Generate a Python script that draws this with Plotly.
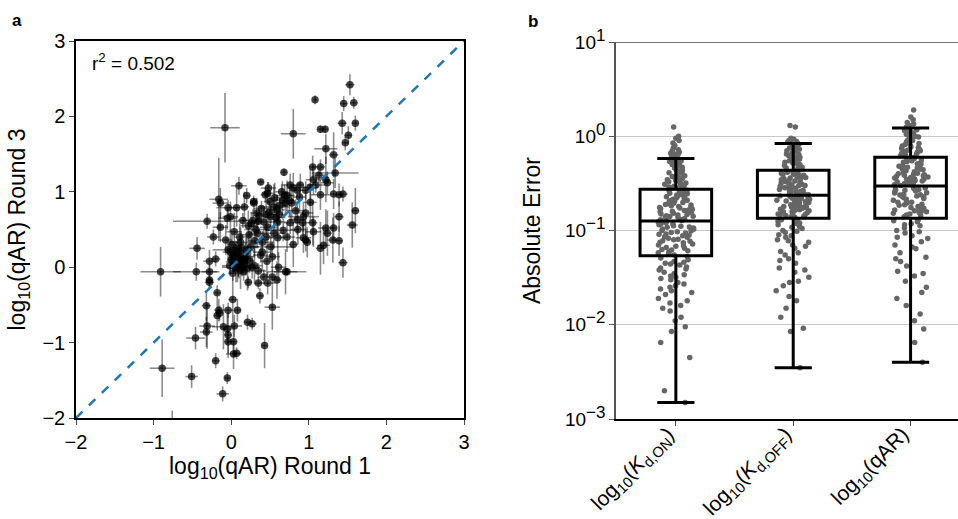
import plotly.graph_objects as go

# ---------------- Panel a data: log10(qAR) Round 1 vs Round 3 ----------------
round1 = [-0.08, 0.80, 1.08, 1.53, 1.45, 1.58, 1.43, 1.60, 1.51, 1.47, 1.15, 1.21, 1.22, 1.32, 1.05, 1.15,
          1.34, 1.13, 1.22, 1.06, 0.68, 0.38, 0.10, 0.76, 0.80, 0.85, 0.89, 0.96, 1.02, 1.09, 1.24, 1.15,
          1.32, 1.39, 1.44, 1.02, 0.96, 0.93, 0.92, 1.05, 1.06, 1.22, 1.24, 1.32, 1.39, 0.93, 0.98, 1.15,
          1.19, 1.31, 1.39, 1.60, 1.56, 1.44, -0.16, -0.14, 0.29, 0.47, -0.31, -0.14, -0.44, -0.23, -0.04,
          -0.01, -0.05, 0.07, 0.17, 0.29, 0.35, -0.04, -0.01, -0.07, 0.04, 0.12, 0.03, 0.08, 0.12, 0.02,
          0.21, 0.27, 0.18, 0.30, 0.38, 0.40, 0.25, 0.34, 0.40, 0.47, 0.51, 0.44, 0.48, 0.55, 0.59, 0.66,
          0.70, 0.55, 0.60, 0.67, 0.72, 0.51, 0.53, 0.42, 0.47, 0.53, 0.70, 0.61, 0.96, 0.85, 0.76, 0.72,
          -0.91, -0.45, -0.28, -0.28, -0.28, -0.20, -0.28, -0.18, -0.32, -0.16, -0.15, -0.18, 0.02, 0.08,
          -0.04, 0.37, 0.53, 0.35, 0.59, 0.22, -0.31, -0.32, -0.46, -0.10, -0.05, 0.04, 0.21, 0.27, -0.04,
          -0.04, 0.03, 0.03, 0.07, 0.43, -0.20, -0.89, -0.51, -0.05, -0.11, -0.76,
          0.00, 0.05, 0.10, 0.13, 0.15, 0.06, 0.09, -0.02, 0.16, 0.20, 0.01, 0.11, 0.22, 0.28, 0.33, 0.39,
          0.45, 0.50, 0.56, 0.62, 0.65, 0.72, 0.78, 0.83, 0.88, 0.60, 0.45, 0.30, 0.24, 0.35, 0.46, 0.80,
          0.86, 0.15, 0.20,
          0.04, 0.07, 0.11, 0.14, 0.19, 0.02, 0.09, 0.13, 0.17, 0.06, 0.23, 0.26, 0.32, 0.36, 0.42, 0.49,
          0.58, 0.63, 0.69, 0.75]
round3 = [1.85, 1.77, 2.22, 2.42, 2.17, 2.18, 1.91, 1.91, 1.75, 1.65, 1.83, 1.83, 1.57, 1.49, 1.33, 1.33,
          1.25, 1.22, 1.16, 1.16, 1.26, 1.13, 1.08, 1.09, 1.05, 1.02, 1.09, 1.02, 1.06, 1.09, 1.12, 0.96,
          0.97, 0.96, 0.97, 0.86, 0.72, 0.67, 0.59, 0.59, 0.47, 0.52, 0.45, 0.52, 0.67, 0.39, 0.33, 0.25,
          0.29, 0.36, 0.35, 0.75, 0.56, 0.06, 0.90, 0.85, 0.87, 0.98, 0.61, 0.53, 0.25, 0.40, 0.79,
          0.67, 0.65, 0.79, 0.80, 0.85, 0.61, 0.23, 0.20, 0.36, 0.47, 0.33, 0.07, 0.00, -0.04, -0.08,
          -0.01, 0.00, 0.12, 0.02, 0.16, 0.20, 0.27, 0.45, 0.33, 0.53, 0.67, 0.96, 1.05, 0.80, 0.76, 0.89,
          0.85, 0.45, 0.39, 0.49, 0.40, 0.27, 0.14, -0.13, -0.21, -0.13, -0.06, 0.00, 0.36, 0.63, 0.59, -0.06,
          -0.06, -0.06, -0.06, -0.20, 0.08, 0.11, -0.17, -0.34, -0.51, -0.57, -0.61, -0.64, -0.43, -0.57,
          -0.57, -0.38, -0.53, -0.21, -0.17, -0.20, -0.78, -0.86, -0.94, -0.79, -0.82, -0.78, -0.73, -0.75, -0.90,
          -0.99, -0.99, -1.15, -1.14, -1.04, -1.24, -1.34, -1.45, -1.47, -1.68, -2.30,
          0.10, 0.15, 0.05, 0.18, 0.08, 0.25, 0.12, 0.02, -0.06, 0.22, 0.30, 0.40, 0.55, 0.62, 0.72, 0.78,
          0.70, 0.87, 0.92, 0.70, 1.00, 0.95, 0.85, 0.75, 0.93, 0.60, 0.40, 0.35, 0.08, -0.05, 0.08, 0.30,
          0.50, 0.62, 0.95,
          0.04, 0.20, 0.10, 0.00, 0.14, 0.16, 0.03, 0.26, 0.06, -0.02, 0.43, 0.58, 0.50, 0.68, 0.60, 0.73,
          0.66, 0.82, 0.95, 0.88]
round1_err = [0.19, 0.16, 0.03, 0.06, 0.05, 0.05, 0.06, 0.04, 0.05, 0.04, 0.04, 0.04, 0.15, 0.06, 0.05, 0.06,
              0.30, 0.08, 0.05, 0.10, 0.04, 0.04, 0.10, 0.10, 0.08, 0.06, 0.05, 0.07, 0.10, 0.12, 0.08, 0.12,
              0.05, 0.05, 0.06, 0.08, 0.10, 0.20, 0.08, 0.06, 0.10, 0.10, 0.06, 0.05, 0.06, 0.10, 0.05, 0.06,
              0.08, 0.07, 0.05, 0.05, 0.07, 0.06, 0.12, 0.10, 0.05, 0.08, 0.44, 0.10, 0.10, 0.08, 0.15,
              0.10, 0.12, 0.10, 0.06, 0.05, 0.06, 0.20, 0.10, 0.08, 0.10, 0.15, 0.10, 0.20, 0.10, 0.06,
              0.15, 0.10, 0.08, 0.10, 0.10, 0.12, 0.10, 0.08, 0.15, 0.10, 0.08, 0.06, 0.10, 0.20, 0.10, 0.15,
              0.08, 0.15, 0.10, 0.20, 0.10, 0.30, 0.10, 0.06, 0.10, 0.06, 0.15, 0.10, 0.06, 0.10, 0.08, 0.25,
              0.26, 0.30, 0.10, 0.06, 0.08, 0.06, 0.05, 0.05, 0.06, 0.06, 0.05, 0.05, 0.06, 0.05,
              0.06, 0.05, 0.10, 0.05, 0.06, 0.05, 0.10, 0.08, 0.12, 0.15, 0.06, 0.10, 0.05, 0.06, 0.05,
              0.05, 0.05, 0.10, 0.06, 0.04, 0.05, 0.16, 0.08, 0.04, 0.08, 0.03,
              0.05, 0.08, 0.06, 0.10, 0.05, 0.12, 0.07, 0.10, 0.08, 0.10, 0.06, 0.08, 0.10, 0.12, 0.08, 0.10,
              0.12, 0.08, 0.06, 0.10, 0.08, 0.10, 0.06, 0.12, 0.08, 0.10, 0.10, 0.08, 0.06, 0.10, 0.08, 0.06,
              0.10, 0.06, 0.05,
              0.06, 0.10, 0.05, 0.08, 0.12, 0.05, 0.07, 0.10, 0.06, 0.08, 0.10, 0.05, 0.15, 0.08, 0.10, 0.06,
              0.12, 0.08, 0.10, 0.06]
round3_err = [0.46, 0.33, 0.06, 0.14, 0.10, 0.08, 0.15, 0.10, 0.12, 0.10, 0.05, 0.05, 0.20, 0.30, 0.15, 0.10,
              0.20, 0.10, 0.30, 0.20, 0.05, 0.04, 0.12, 0.15, 0.20, 0.10, 0.15, 0.12, 0.25, 0.10, 0.15, 0.20,
              0.20, 0.15, 0.10, 0.25, 0.30, 0.20, 0.15, 0.30, 0.20, 0.25, 0.30, 0.20, 0.20, 0.20, 0.20, 0.35,
              0.25, 0.30, 0.20, 0.30, 0.30, 0.20, 0.55, 0.20, 0.05, 0.15, 0.10, 0.20, 0.15, 0.10, 0.10,
              0.20, 0.15, 0.25, 0.20, 0.10, 0.05, 0.15, 0.30, 0.20, 0.25, 0.20, 0.15, 0.20, 0.25, 0.10,
              0.30, 0.15, 0.20, 0.25, 0.10, 0.25, 0.20, 0.20, 0.15, 0.25, 0.15, 0.10, 0.08, 0.30, 0.20, 0.25,
              0.15, 0.20, 0.30, 0.15, 0.20, 0.15, 0.20, 0.10, 0.15, 0.10, 0.30, 0.20, 0.15, 0.20, 0.15, 0.05,
              0.33, 0.12, 0.10, 0.08, 0.15, 0.10, 0.10, 0.10, 0.20, 0.15, 0.10, 0.20, 0.30, 0.15,
              0.10, 0.10, 0.30, 0.08, 0.25, 0.08, 0.30, 0.20, 0.15, 0.30, 0.20, 0.15, 0.10, 0.08, 0.30,
              0.15, 0.20, 0.20, 0.08, 0.30, 0.10, 0.38, 0.15, 0.08, 0.10, 0.40,
              0.10, 0.12, 0.20, 0.15, 0.10, 0.10, 0.25, 0.10, 0.12, 0.20, 0.15, 0.18, 0.20, 0.15, 0.20, 0.10,
              0.25, 0.15, 0.20, 0.15, 0.10, 0.20, 0.25, 0.15, 0.20, 0.20, 0.15, 0.20, 0.15, 0.10, 0.20, 0.30,
              0.20, 0.10, 0.10,
              0.10, 0.15, 0.20, 0.12, 0.25, 0.10, 0.15, 0.20, 0.10, 0.18, 0.20, 0.15, 0.25, 0.10, 0.20, 0.15,
              0.20, 0.10, 0.15, 0.20]
r_squared = 0.502

# ---------------- Panel b data: absolute error ----------------
categories = ["log<sub>10</sub>(<i>K</i><sub>d,ON</sub>)",
              "log<sub>10</sub>(<i>K</i><sub>d,OFF</sub>)",
              "log<sub>10</sub>(qAR)"]
err_kd_on = [0.0015, 0.002, 0.0045, 0.0065, 0.0085, 0.0095,
             0.011, 0.012, 0.014, 0.015, 0.017, 0.018, 0.019, 0.021, 0.022, 0.024, 0.025, 0.027, 0.028, 0.03,
             0.031, 0.033, 0.034, 0.036, 0.038, 0.04, 0.041, 0.043, 0.045, 0.047, 0.049, 0.051, 0.053,
             0.055, 0.057, 0.059, 0.061, 0.063, 0.066, 0.068, 0.07, 0.072, 0.075, 0.078, 0.08, 0.083, 0.086,
             0.088, 0.091, 0.094, 0.097, 0.1, 0.103, 0.106, 0.109, 0.112, 0.115, 0.118, 0.121, 0.124, 0.126,
             0.065, 0.077, 0.092, 0.108,
             0.13, 0.134, 0.138, 0.142, 0.146, 0.15, 0.155, 0.16, 0.165, 0.17, 0.175, 0.18, 0.186, 0.192,
             0.198, 0.204, 0.21, 0.217, 0.224, 0.231, 0.238, 0.245, 0.252, 0.26, 0.268, 0.152, 0.178, 0.2,
             0.235, 0.143,
             0.28, 0.29, 0.3, 0.31, 0.32, 0.33, 0.345, 0.36, 0.375, 0.39, 0.405, 0.42, 0.44, 0.46, 0.48, 0.5,
             0.52, 0.55, 0.57, 0.3, 0.33, 0.37,
             0.6, 0.62, 0.64, 0.66, 0.68, 0.7, 0.75, 0.8, 0.85, 0.9, 0.95, 1.0, 1.25,
             0.016, 0.023, 0.026, 0.035, 0.039, 0.046,
             0.032, 0.044, 0.058, 0.062, 0.069, 0.074, 0.081, 0.085, 0.089, 0.095, 0.099, 0.104, 0.111, 0.117,
             0.122, 0.128, 0.132, 0.137, 0.141, 0.148, 0.158, 0.163, 0.168, 0.173, 0.183, 0.189, 0.195, 0.207,
             0.214, 0.221, 0.228, 0.242, 0.249, 0.256, 0.264, 0.285, 0.295, 0.315, 0.34, 0.355, 0.38, 0.41,
             0.43, 0.45, 0.47, 0.51, 0.54, 0.56, 0.65, 0.72]
err_kd_off = [0.0035, 0.0085, 0.0092,
              0.012, 0.015, 0.018, 0.02, 0.023, 0.026, 0.029, 0.032, 0.036, 0.04, 0.045, 0.05, 0.055, 0.06,
              0.065, 0.07, 0.075, 0.08, 0.085, 0.09, 0.095, 0.1, 0.105, 0.11, 0.115, 0.12, 0.125, 0.13,
              0.138, 0.142, 0.146, 0.15, 0.154, 0.158, 0.162, 0.166, 0.17, 0.175, 0.18, 0.185, 0.19, 0.195,
              0.2, 0.205, 0.21, 0.215, 0.22, 0.225, 0.23, 0.235, 0.148, 0.168, 0.188, 0.208, 0.228, 0.158,
              0.178, 0.198,
              0.24, 0.248, 0.256, 0.264, 0.272, 0.28, 0.29, 0.3, 0.31, 0.32, 0.33, 0.34, 0.35, 0.36, 0.37,
              0.38, 0.39, 0.4, 0.41, 0.42, 0.43, 0.26, 0.285, 0.315, 0.345, 0.375, 0.405, 0.252, 0.295, 0.335,
              0.45, 0.47, 0.49, 0.51, 0.53, 0.55, 0.57, 0.6, 0.62, 0.65, 0.68, 0.7, 0.73, 0.76, 0.79, 0.82,
              0.84, 0.5, 0.58, 0.66,
              0.9, 0.92, 0.95, 1.25, 1.3,
              0.028, 0.038, 0.048, 0.058, 0.068, 0.078, 0.088, 0.098, 0.108, 0.118, 0.128, 0.14, 0.144, 0.152,
              0.156, 0.164, 0.172, 0.177, 0.183, 0.192, 0.202, 0.212, 0.218, 0.224, 0.232, 0.244, 0.258, 0.268,
              0.276, 0.298, 0.305, 0.325, 0.355, 0.365, 0.385, 0.395, 0.415, 0.44, 0.46, 0.48, 0.52, 0.56, 0.6,
              0.64, 0.7, 0.75, 0.8, 0.86, 0.88, 0.93]
err_qar = [0.004, 0.0065, 0.009,
           0.011, 0.013, 0.016, 0.019, 0.022, 0.025, 0.029, 0.033, 0.037, 0.042, 0.047, 0.052, 0.058, 0.064,
           0.07, 0.076, 0.082, 0.088, 0.094, 0.1, 0.106, 0.112, 0.118, 0.124, 0.13,
           0.14, 0.146, 0.152, 0.158, 0.165, 0.172, 0.18, 0.188, 0.196, 0.205, 0.214, 0.223, 0.232, 0.242,
           0.252, 0.262, 0.272, 0.282, 0.292, 0.15, 0.17, 0.19, 0.21, 0.23, 0.25, 0.27, 0.29, 0.16, 0.2, 0.24,
           0.3, 0.31, 0.32, 0.33, 0.34, 0.35, 0.36, 0.37, 0.38, 0.39, 0.4, 0.42, 0.44, 0.46, 0.48, 0.5, 0.52,
           0.54, 0.56, 0.58, 0.6, 0.325, 0.355, 0.385, 0.41, 0.45, 0.49, 0.53, 0.57, 0.345,
           0.62, 0.65, 0.68, 0.71, 0.74, 0.77, 0.8, 0.84, 0.88, 0.92, 0.96, 1.0, 1.05, 1.1, 1.15, 1.2, 0.7,
           0.86, 0.98,
           1.3, 1.4, 1.5, 1.9,
           0.035, 0.05, 0.067, 0.085, 0.097, 0.115, 0.127, 0.143, 0.155, 0.162, 0.175, 0.185, 0.2, 0.218,
           0.228, 0.238, 0.258, 0.268, 0.278, 0.288, 0.305, 0.315, 0.335, 0.35, 0.365, 0.375, 0.395, 0.405,
           0.43, 0.47, 0.51, 0.55, 0.59, 0.63, 0.66, 0.69, 0.73, 0.76, 0.79, 0.82, 0.9, 0.94, 1.02, 1.08,
           1.12, 1.17, 1.25, 1.35, 1.6, 0.45]
box_q1 = [0.054, 0.135, 0.135]
box_median = [0.126, 0.237, 0.296]
box_q3 = [0.274, 0.436, 0.60]
box_lowerfence = [0.0015, 0.0035, 0.004]
box_upperfence = [0.58, 0.84, 1.22]
y_tickvals = [0.001, 0.01, 0.1, 1, 10]
y_exponents = ["−3", "−2", "−1", "0", "1"]
y_ticktext = ["10<sup><span style='font-size:17px'>" + e + "</span></sup>" for e in y_exponents]

FONT = "Liberation Sans, Arial, sans-serif"
W, H = 958, 519

fig = go.Figure()

# Panel a: scatter with error bars
fig.add_trace(go.Scatter(
    x=round1, y=round3, mode="markers",
    marker=dict(color="rgba(0,0,0,0.72)", size=7.5, line=dict(width=0)),
    error_x=dict(type="data", array=round1_err, color="rgba(0,0,0,0.45)", thickness=1.6, width=0),
    error_y=dict(type="data", array=round3_err, color="rgba(0,0,0,0.45)", thickness=1.6, width=0),
    xaxis="x", yaxis="y", showlegend=False, cliponaxis=True))
fig.add_trace(go.Scatter(
    x=[-2, 3], y=[-2, 3], mode="lines",
    line=dict(color="#1f77b4", width=2.5, dash="dash"),
    xaxis="x", yaxis="y", showlegend=False))

# Panel b: jittered points
xs_pts = [0] * len(err_kd_on) + [1] * len(err_kd_off) + [2] * len(err_qar)
ys_pts = err_kd_on + err_kd_off + err_qar
fig.add_trace(go.Box(
    x=xs_pts, y=ys_pts, boxpoints="all", jitter=0.5, pointpos=0,
    fillcolor="rgba(0,0,0,0)", line=dict(width=0, color="rgba(0,0,0,0)"),
    marker=dict(color="#666666", size=5.5), width=0.61,
    xaxis="x2", yaxis="y2", showlegend=False))
# Panel b: boxes from stats
fig.add_trace(go.Box(
    x=[0, 1, 2], q1=box_q1, median=box_median, q3=box_q3,
    lowerfence=box_lowerfence, upperfence=box_upperfence,
    boxpoints=False, fillcolor="rgba(0,0,0,0)", line=dict(color="black", width=3),
    whiskerwidth=0.52, width=0.61, xaxis="x2", yaxis="y2", showlegend=False))

ax_font = dict(family=FONT, size=20, color="black")
title_font = dict(family=FONT, size=23, color="black")
fig.update_layout(
    width=W, height=H, margin=dict(l=0, r=0, t=0, b=0, autoexpand=False),
    paper_bgcolor="white", plot_bgcolor="white",
    font=dict(family=FONT, color="black"),
    boxmode="overlay",
    xaxis=dict(domain=[76 / W, 464 / W], range=[-2, 3], tickvals=[-2, -1, 0, 1, 2, 3],
               showgrid=False, zeroline=False, showline=True, mirror=True, linecolor="black", linewidth=1.5,
               ticks="outside", ticklen=5, tickwidth=1.3, tickfont=ax_font, automargin=False,
               title=dict(text="log<sub>10</sub>(qAR) Round 1", font=title_font, standoff=6),
               anchor="y"),
    yaxis=dict(domain=[1 - 418 / H, 1 - 41 / H], range=[-2, 3], tickvals=[-2, -1, 0, 1, 2, 3],
               showgrid=False, zeroline=False, showline=True, mirror=True, linecolor="black", linewidth=1.5,
               ticks="outside", ticklen=5, tickwidth=1.3, tickfont=ax_font, automargin=False,
               title=dict(text="log<sub>10</sub>(qAR) Round 3", font=title_font, standoff=10),
               anchor="x"),
    xaxis2=dict(domain=[616 / W, 1.0], range=[-0.51, 2.404], tickvals=[0, 1, 2], ticktext=categories,
                tickangle=-45, showgrid=False, zeroline=False, showline=True, linecolor="black", linewidth=1.5,
                ticks="outside", ticklen=5, tickwidth=1.3, automargin=False,
                ticklabelshift=-8, ticklabelstandoff=-12,
                tickfont=dict(family=FONT, size=21, color="black"), anchor="y2"),
    yaxis2=dict(domain=[1 - 419 / H, 1 - 42 / H], type="log", range=[-3, 1],
                tickvals=y_tickvals, ticktext=y_ticktext,
                showgrid=True, gridcolor="#c8c8c8", gridwidth=1, zeroline=False,
                showline=True, linecolor="#555555", linewidth=1.5, automargin=False,
                ticks="outside", ticklen=5, tickwidth=1.3, tickcolor="#555555",
                tickfont=dict(family=FONT, size=19, color="black"),
                title=dict(text="Absolute Error", font=dict(family=FONT, size=23), standoff=18),
                anchor="x2"),
    shapes=[dict(type="line", xref="x2 domain", yref="y2", x0=0, x1=1, y0=10, y1=10,
                 line=dict(color="#444444", width=1.5))],
    annotations=[
        dict(text=f"r<sup>2</sup> = {r_squared:.3f}", xref="x", yref="y", x=-1.82, y=2.72,
             xanchor="left", yanchor="middle", showarrow=False, font=dict(family=FONT, size=19)),
        dict(text="<b>a</b>", xref="paper", yref="paper", x=10 / W, y=1 - 20 / H,
             xanchor="left", yanchor="middle", showarrow=False, font=dict(family=FONT, size=17)),
        dict(text="<b>b</b>", xref="paper", yref="paper", x=526 / W, y=1 - 22 / H,
             xanchor="left", yanchor="middle", showarrow=False, font=dict(family=FONT, size=17)),
    ],
)

fig.write_html("out.html")
